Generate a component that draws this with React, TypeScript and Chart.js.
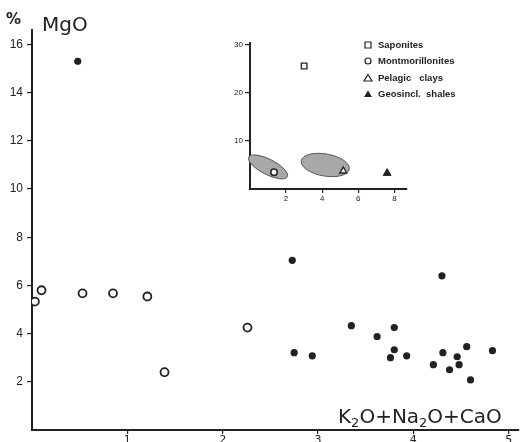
import React, { useEffect, useRef } from "react";
import { Chart, registerables } from "chart.js";

Chart.register(...registerables);

// ---- Main chart data ----
const OPEN_X = [0.03, 0.1, 0.53, 0.85, 1.21, 1.39, 2.26];
const OPEN_Y = [5.33, 5.8, 5.67, 5.67, 5.54, 2.4, 4.25];
const FILLED_X = [0.48, 2.73, 4.3, 3.35, 3.8, 3.62, 2.75, 2.94, 3.8, 3.76, 3.93, 4.31, 4.56, 4.83, 4.46, 4.21, 4.48, 4.38, 4.6];
const FILLED_Y = [15.3, 7.04, 6.4, 4.33, 4.25, 3.88, 3.21, 3.08, 3.33, 3.0, 3.08, 3.21, 3.46, 3.29, 3.04, 2.71, 2.71, 2.5, 2.08];
const MAIN_X_TICKS = [1, 2, 3, 4, 5];
const MAIN_Y_TICKS = [2, 4, 6, 8, 10, 12, 14, 16];

// ---- Inset data ----
const INSET_LABELS = ["Saponites", "Montmorillonites", "Pelagic   clays", "Geosincl.  shales"];
const SAPONITE_X = [3.0];
const SAPONITE_Y = [25.6];
const MONT_X = [1.33];
const MONT_Y = [3.5];
const PELAGIC_X = [5.17];
const PELAGIC_Y = [3.75];
const SHALE_X = [7.6];
const SHALE_Y = [3.3];
const INSET_X_TICKS = [2, 4, 6, 8];
const INSET_Y_TICKS = [10, 20, 30];
// field ellipses: centre x, centre y, half-width (x units), half-height (y units), screen rotation (deg)
const FIELD_CX = [1.0, 4.17];
const FIELD_CY = [4.6, 5.0];
const FIELD_RX = [1.2, 1.35];
const FIELD_RY = [1.6, 2.3];
const FIELD_ROT = [27, 10];

const INK = "#222";
const FONT = "'DejaVu Sans', sans-serif";
const NARROW = "'Liberation Sans Narrow', 'Liberation Sans', sans-serif";

const pts = (xs: number[], ys: number[]) => xs.map((x, i) => ({ x, y: ys[i] }));

const mainTitles = {
  id: "mainTitles",
  afterDraw(chart: any) {
    const ctx = chart.ctx;
    ctx.save();
    ctx.fillStyle = INK;
    ctx.textBaseline = "alphabetic";
    ctx.font = `bold 15px ${FONT}`;
    ctx.fillText("%", 6, 24);
    ctx.font = `20px ${FONT}`;
    ctx.fillText("MgO", 42, 31);
    // x title with subscripts
    const segs = [
      { t: "K", s: false },
      { t: "2", s: true },
      { t: "O+Na", s: false },
      { t: "2", s: true },
      { t: "O+CaO", s: false },
    ];
    let x = 338;
    const base = 423;
    for (const g of segs) {
      ctx.font = g.s ? `13px ${FONT}` : `20px ${FONT}`;
      ctx.fillText(g.t, x, g.s ? base + 4 : base);
      x += ctx.measureText(g.t).width;
    }
    ctx.restore();
  },
};

const fieldPlugin = {
  id: "fields",
  beforeDatasetsDraw(chart: any) {
    const ctx = chart.ctx;
    const xs = chart.scales.x;
    const ys = chart.scales.y;
    const pxX = Math.abs(xs.getPixelForValue(1) - xs.getPixelForValue(0));
    const pxY = Math.abs(ys.getPixelForValue(1) - ys.getPixelForValue(0));
    ctx.save();
    for (let i = 0; i < FIELD_CX.length; i++) {
      ctx.beginPath();
      ctx.ellipse(
        xs.getPixelForValue(FIELD_CX[i]),
        ys.getPixelForValue(FIELD_CY[i]),
        FIELD_RX[i] * pxX * 1.0,
        FIELD_RY[i] * pxY * 0.0 + (FIELD_RY[i] * pxY) / 1.0,
        (FIELD_ROT[i] * Math.PI) / 180,
        0,
        Math.PI * 2
      );
      ctx.fillStyle = "#a8a8a8";
      ctx.fill();
      ctx.lineWidth = 1;
      ctx.strokeStyle = "#555";
      ctx.stroke();
    }
    ctx.restore();
  },
};

const insetLegend = {
  id: "insetLegend",
  afterDraw(chart: any) {
    const ctx = chart.ctx;
    const rowsY = [17, 33, 50, 66];
    const mx = 148;
    ctx.save();
    ctx.fillStyle = INK;
    ctx.strokeStyle = INK;
    ctx.lineWidth = 1.2;
    ctx.font = `bold 9.5px ${NARROW}`;
    ctx.textBaseline = "middle";
    INSET_LABELS.forEach((lab, i) => {
      const y = rowsY[i];
      ctx.beginPath();
      if (i === 0) {
        ctx.rect(mx - 3, y - 3, 6, 6);
        ctx.stroke();
      } else if (i === 1) {
        ctx.arc(mx, y, 3, 0, Math.PI * 2);
        ctx.stroke();
      } else {
        ctx.moveTo(mx, y - 3.5);
        ctx.lineTo(mx + 4, y + 3);
        ctx.lineTo(mx - 4, y + 3);
        ctx.closePath();
        if (i === 3) ctx.fill();
        else ctx.stroke();
      }
      ctx.fillText(lab, 158, y + 0.5);
    });
    ctx.restore();
  },
};

function axisCfg(min: number, max: number, ticks: number[], fit: (s: any) => void, font: any, tickLen: number, pad: number) {
  return {
    type: "linear" as const,
    min,
    max,
    afterBuildTicks(scale: any) {
      scale.ticks = ticks.map((v) => ({ value: v }));
    },
    afterFit: fit,
    border: { display: true, color: INK, width: 2 },
    grid: { display: true, drawOnChartArea: false, drawTicks: true, tickLength: tickLen, color: INK, lineWidth: 1.2 },
    ticks: { color: INK, font, padding: pad, autoSkip: false, maxRotation: 0 },
  };
}

export default function App() {
  const mainRef = useRef<HTMLCanvasElement>(null);
  const insetRef = useRef<HTMLCanvasElement>(null);

  useEffect(() => {
    document.body.style.margin = "0";
    const main = new Chart(mainRef.current!, {
      type: "scatter",
      data: {
        datasets: [
          {
            data: pts(OPEN_X, OPEN_Y),
            pointRadius: 4,
            pointBorderWidth: 1.8,
            pointBackgroundColor: "#fff",
            pointBorderColor: INK,
          },
          {
            data: pts(FILLED_X, FILLED_Y),
            pointRadius: 3.6,
            pointBorderWidth: 0,
            pointBackgroundColor: INK,
            pointBorderColor: INK,
          },
        ],
      },
      options: {
        animation: false,
        responsive: false,
        maintainAspectRatio: false,
        layout: { padding: { top: 30, right: 1, left: 0, bottom: 0 } },
        plugins: { legend: { display: false }, tooltip: { enabled: false } },
        scales: {
          x: axisCfg(0, 5.1, MAIN_X_TICKS, (s: any) => { s.height = 12; }, { family: FONT, size: 11 }, 4, 0),
          y: axisCfg(0, 16.6, MAIN_Y_TICKS, (s: any) => { s.width = 32; }, { family: NARROW, size: 12 }, 5, 4),
        },
      },
      plugins: [mainTitles],
    });

    const inset = new Chart(insetRef.current!, {
      type: "scatter",
      data: {
        datasets: [
          {
            data: pts(SAPONITE_X, SAPONITE_Y),
            pointStyle: "rect",
            pointRadius: 4,
            pointBorderWidth: 1.3,
            pointBackgroundColor: "#fff",
            pointBorderColor: INK,
          },
          {
            data: pts(MONT_X, MONT_Y),
            pointStyle: "circle",
            pointRadius: 3.2,
            pointBorderWidth: 1.5,
            pointBackgroundColor: "#fff",
            pointBorderColor: INK,
          },
          {
            data: pts(PELAGIC_X, PELAGIC_Y),
            pointStyle: "triangle",
            pointRadius: 4,
            pointBorderWidth: 1.4,
            pointBackgroundColor: "#fff",
            pointBorderColor: INK,
          },
          {
            data: pts(SHALE_X, SHALE_Y),
            pointStyle: "triangle",
            pointRadius: 4.5,
            pointBorderWidth: 1,
            pointBackgroundColor: INK,
            pointBorderColor: INK,
          },
        ],
      },
      options: {
        animation: false,
        responsive: false,
        maintainAspectRatio: false,
        layout: { padding: { top: 15, right: 63, left: 0, bottom: 0 } },
        plugins: { legend: { display: false }, tooltip: { enabled: false } },
        scales: {
          x: axisCfg(0, 8.7, INSET_X_TICKS, (s: any) => { s.height = 19; }, { family: NARROW, size: 8 }, 4, 1),
          y: axisCfg(0, 30.4, INSET_Y_TICKS, (s: any) => { s.width = 30; }, { family: NARROW, size: 8 }, 5, 2),
        },
      },
      plugins: [fieldPlugin, insetLegend],
    });

    return () => {
      main.destroy();
      inset.destroy();
    };
  }, []);

  return (
    <div style={{ position: "relative", width: 524, height: 442, background: "#fff" }}>
      <canvas ref={mainRef} width={524} height={442} style={{ position: "absolute", left: 0, top: 0 }} />
      <canvas ref={insetRef} width={250} height={180} style={{ position: "absolute", left: 220, top: 28 }} />
    </div>
  );
}
